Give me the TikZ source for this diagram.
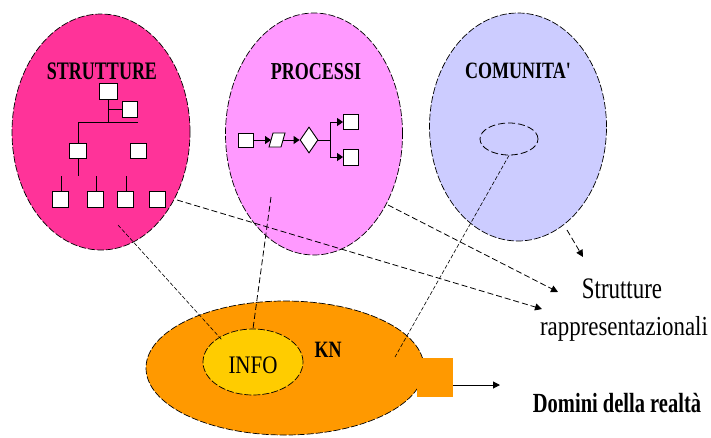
\documentclass[tikz,border=0pt]{standalone}
\usepackage{fontspec}
\usepackage{graphicx}
\setmainfont{Liberation Serif}
\usetikzlibrary{shapes.geometric,arrows.meta}
\definecolor{strutpink}{RGB}{255,51,153}
\definecolor{procpink}{RGB}{255,153,255}
\definecolor{comlav}{RGB}{204,204,255}
\definecolor{knorange}{RGB}{255,153,0}
\definecolor{infoyellow}{RGB}{255,204,0}
\newcommand{\vstretch}[2]{\scalebox{1}[#1]{#2}}
\begin{document}
\begin{tikzpicture}[x=1pt,y=-1pt,
  blob/.style={ellipse, draw=black, line width=0.7pt, dash pattern=on 7pt off 2pt, inner sep=0pt},
  titletext/.style={font=\fontsize{18}{18}\selectfont\bfseries, inner sep=0pt},
  wbox/.style={draw=black, fill=white, line width=0.9pt, inner sep=0pt, minimum width=16pt, minimum height=16pt},
  orgline/.style={line width=1pt},
  link/.style={line width=0.8pt, dash pattern=on 6pt off 3pt},
  thinlink/.style={line width=0.6pt, dash pattern=on 4pt off 2pt},
  headarrow/.style={-{Triangle[length=7pt,width=7pt]}},
  smallarrow/.style={-{Triangle[length=6pt,width=8pt]}, line width=1pt},
]
\useasboundingbox (0,0) rectangle (711,437);

% big ellipses
\node[blob, fill=strutpink, minimum width=178pt, minimum height=236pt] (S) at (101,132) {};
\node[blob, fill=procpink, minimum width=177pt, minimum height=242pt] (P) at (314,134) {};
\node[blob, fill=comlav, minimum width=177pt, minimum height=228pt] (C) at (518,127) {};

\node[blob, fill=knorange, minimum width=278pt, minimum height=134pt] (K) at (285,368) {};
\node[fill=knorange, minimum width=36pt, minimum height=39pt, inner sep=0pt] (R) at (435,377.5) {};
\node[blob, fill=infoyellow, minimum width=100pt, minimum height=66pt] (I) at (253,362) {};

% titles
\node[titletext] (tS) at (102,71) {\vstretch{1.4}{STRUTTURE}};
\node[titletext] (tP) at (316,72) {\vstretch{1.35}{PROCESSI}};
\node[titletext] (tC) at (518,71) {\vstretch{1.3}{COMUNITA\textquotesingle}};
\node[font=\fontsize{21}{21}\selectfont, inner sep=0pt] (tI) at (253,365) {\vstretch{1.2}{INFO}};
\node[titletext] (tK) at (328,350) {\vstretch{1.3}{KN}};

% org chart
\node[wbox, minimum width=18pt] (o1) at (108,91) {};
\node[wbox, minimum width=15pt] (o2) at (130,109) {};
\node[wbox, minimum width=17pt, minimum height=15pt] (o3) at (78,151) {};
\node[wbox, minimum width=16pt, minimum height=15pt] (o4) at (138,151) {};
\node[wbox] (b1) at (60,199) {};
\node[wbox] (b2) at (95,199) {};
\node[wbox] (b3) at (125,199) {};
\node[wbox] (b4) at (157,199) {};
\coordinate (hl) at (78,122);
\coordinate (hr) at (138,122);
\draw[orgline] (o1.south) -- (o1.south |- hl);
\draw[orgline] (o1.south |- o2.west) -- (o2.west);
\draw[orgline] (hl) -- (hr);
\draw[orgline] (hl) -- (o3.north);
\draw[orgline] (o3.south) -- ++(0,17);
\draw[orgline] ([xshift=1pt]b1.north) -- ++(0,-15);
\draw[orgline] ([xshift=1pt]b2.north) -- ++(0,-15);
\draw[orgline] ([xshift=1pt]b3.north) -- ++(0,-15);

% process chain
\node[wbox, minimum width=15pt, minimum height=14pt] (p1) at (246,140) {};
\filldraw[fill=white, draw=black, line width=0.9pt] (269,147) -- (273,133) -- (285,133) -- (281,147) -- cycle;
\coordinate (pgw) at (271,140);
\coordinate (pge) at (283,140);
\node[diamond, draw=black, fill=white, line width=0.9pt, inner sep=0pt, minimum width=18pt, minimum height=26pt] (dd) at (309,140) {};
\node[wbox, minimum width=15pt, minimum height=15pt] (q1) at (351,122) {};
\node[wbox, minimum width=15pt, minimum height=16pt] (q2) at (351,157) {};
\coordinate (fk) at (330,140);
\draw[smallarrow] (p1.east) -- (pgw);
\draw[smallarrow] (pge) -- (dd.west);
\draw[line width=1pt] (dd.east) -- (fk);
\draw[line width=1pt] (fk |- q1.west) -- (fk |- q2.west);
\draw[smallarrow] (fk |- q1.west) -- (q1.west);
\draw[smallarrow] (fk |- q2.west) -- (q2.west);

% community ring
\node[ellipse, draw=black, line width=0.8pt, dash pattern=on 7pt off 3pt, inner sep=0pt, minimum width=58pt, minimum height=32pt] (ce) at (509,139) {};

% right labels
\node[font=\fontsize{22.9}{22.9}\selectfont, inner sep=0pt] (lS) at (622,289) {\vstretch{1.3}{Strutture}};
\node[font=\fontsize{22.9}{22.9}\selectfont, inner sep=0pt] (lR) at (624,329) {\vstretch{1.2}{rappresentazionali}};
\node[font=\fontsize{20.5}{20.5}\selectfont\bfseries, inner sep=0pt] (lD) at (617,403) {\vstretch{1.35}{Domini della realtà}};

% connectors
\coordinate (s0) at (177,200);
\coordinate (a1) at (542,309);
\coordinate (p0) at (388,205);
\coordinate (a2) at (558,292);
\coordinate (c0) at (567,230);
\coordinate (a3) at (583,257);
\draw[link, headarrow] (s0) -- (a1);
\draw[link, headarrow] (p0) -- (a2);
\draw[link, headarrow] (c0) -- (a3);

\coordinate (s1) at (118,225);
\coordinate (i1) at (222,340);
\coordinate (pp) at (271,197);
\coordinate (kn1) at (395,357);
\draw[thinlink] (s1) -- (i1);
\draw[link] (pp) -- (I.north);
\draw[thinlink] (ce.south) -- (kn1);

\coordinate (d1) at (500,385);
\draw[headarrow, line width=1pt] (R.east |- d1) -- (d1);
\end{tikzpicture}
\end{document}
